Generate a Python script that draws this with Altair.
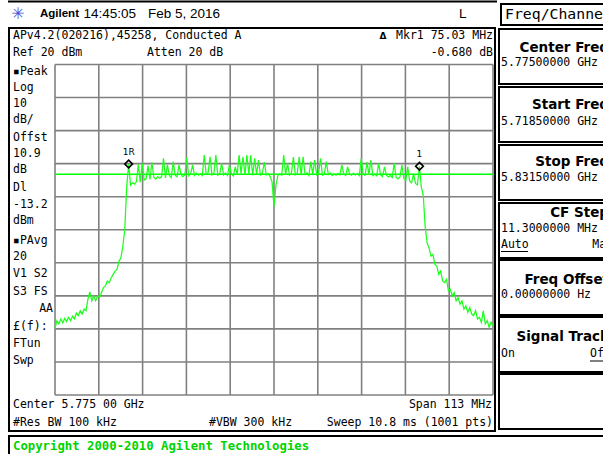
import altair as alt
import pandas as pd

# ---------------------------------------------------------------- sweep setup
START_MHZ = 5718.5
STOP_MHZ = 5831.5
STEP_MHZ = 0.5            # spacing of the stored trace points
REF_DBM = 20
BOTTOM_DBM = -80
DISPLAY_LINE_DBM = -13.2

# trace level (dBm) at each stored point, START_MHZ upwards in STEP_MHZ steps
levels = [
    # lower skirt
    -59.8, -57.5, -58.5, -57.0, -58.2, -56.8, -57.8, -56.5, -57.5, -56.2,
    -57.0, -55.2, -56.0, -54.5, -55.5, -54.0, -54.5, -51.0, -48.8, -51.5,
    -50.0, -51.5, -50.0, -50.5, -49.0, -47.5, -47.0, -45.5, -46.0, -44.5,
    -43.5, -42.5, -42.0, -39.5, -38.5, -35.0, -30.0,
    # in-band
    -17.0, -10.1, -16.5, -15.8, -16.2, -15.5, -10.2, -15.6, -9.9, -15.0,
    -14.6, -10.6, -14.8, -9.6, -14.2, -14.7, -13.9, -14.4, -14.0, -8.4,
    -14.3, -10.4, -13.6, -14.2, -9.4, -13.5, -14.0, -10.4, -13.2, -13.9,
    -13.4, -8.2, -13.7, -13.1, -10.4, -13.6, -12.9, -13.5, -13.0, -13.6,
    -7.4, -13.2, -12.8, -7.9, -13.4, -12.9, -7.4, -13.5, -13.0, -9.9,
    -13.4, -12.8, -13.6, -10.4, -13.1, -13.7, -11.0, -13.2, -7.4, -13.0,
    -7.9, -13.4, -7.4, -13.1, -7.4, -13.6, -8.4, -13.2, -8.9, -13.5,
    -12.9, -9.5, -13.4, -13.0, -13.9, -15.5, -23.0, -16.5, -13.6, -13.1,
    -13.5, -7.4, -13.2, -9.9, -13.5, -12.9, -8.0, -13.4, -13.0, -7.9,
    -13.5, -7.9, -13.2, -12.8, -13.6, -9.4, -13.1, -8.9, -13.4, -12.9,
    -8.4, -13.5, -13.0, -9.4, -13.3, -12.8, -13.6, -13.1, -13.5, -12.9,
    -13.4, -10.4, -13.2, -13.6, -11.0, -13.1, -13.5, -12.9, -13.4, -13.0,
    -13.6, -8.4, -13.2, -13.5, -9.5, -13.3, -8.9, -13.6, -13.2, -13.7,
    -9.9, -13.4, -13.9, -11.0, -13.5, -14.0, -13.6, -14.2, -9.9, -14.1,
    -14.6, -14.0, -10.4, -14.5, -15.0, -11.0, -15.3, -15.8, -13.0, -16.0,
    -16.4, -10.78, -17.0, -19.5,
    # upper skirt
    -29.0, -34.0, -35.5, -38.0, -37.5, -40.5, -41.0, -43.5, -42.5, -45.5,
    -46.0, -45.0, -48.5, -48.0, -50.0, -49.0, -51.5, -50.5, -52.5, -51.5,
    -54.0, -53.0, -55.0, -53.5, -55.5, -56.0, -54.5, -57.0, -56.5, -58.0,
    -54.5, -58.5, -57.5, -59.5, -58.0, -59.0,
]
freqs = [START_MHZ + STEP_MHZ * i for i in range(len(levels))]

# markers: reference marker and delta readout
MKR_REF_FREQ = 5737.5
MKR_REF_LEVEL = -10.10
DELTA_FREQ_MHZ = 75.03
DELTA_LEVEL_DB = -0.680
marker_freqs = [MKR_REF_FREQ, MKR_REF_FREQ + DELTA_FREQ_MHZ]
marker_levels = [MKR_REF_LEVEL, MKR_REF_LEVEL + DELTA_LEVEL_DB]
marker_names = ["1R", "1"]

# graticule: 10 x 10 divisions
grid_freqs = [START_MHZ + 11.3 * k for k in range(11)]
grid_levels = [-80, -70, -60, -50, -40, -30, -20, -10, 0, 10, 20]

# annotation text
left_labels = ["\u25aaPeak", "Log", "10", "dB/", "Offst", "10.9", "dB", "Dl",
               "-13.2", "dBm", "\u25aaPAvg", "20", "V1 S2", "S3 FS"]
left_label_y = [71.5, 87.5, 103.5, 120, 137.5, 154, 170, 188,
                204.5, 220.5, 241, 257, 274, 291.5]
left_labels_low = ["\u00a3(f):", "FTun", "Swp"]
left_label_low_y = [326.5, 343.5, 360.5]

softkey_titles = ["Center Freq", "Start Freq", "Stop Freq", "CF Step",
                  "Freq Offset", "Signal Track"]
softkey_values = ["5.77500000 GHz", "5.71850000 GHz", "5.83150000 GHz",
                  "11.3000000 MHz", "0.00000000  Hz", ""]
softkey_tops = [28, 86, 144, 202, 259, 316, 373]

# ---------------------------------------------------------------- layout
W, H = 603, 454
PX_L, PX_R, PX_T, PX_B = 55, 493, 64.5, 395
MONO = "DejaVu Sans Mono"
SANS = "Liberation Sans"
BOLD_SANS = "DejaVu Sans"
GRID = "#808080"
TRACE = "#1cff1c"

ONE = pd.DataFrame({"k": [0]})
xs = alt.Scale(domain=[START_MHZ, STOP_MHZ], range=[PX_L, PX_R])
ys = alt.Scale(domain=[BOTTOM_DBM, REF_DBM], range=[PX_B, PX_T])


def text(txt, x, y, size=11.5, font=MONO, weight="normal", align="left",
         color="black"):
    return alt.Chart(ONE).mark_text(
        font=font, fontSize=size, fontWeight=weight, align=align,
        baseline="middle", color=color,
    ).encode(x=alt.value(x), y=alt.value(y), text=alt.value(txt))


def box(x0, x1, y0, y1, width=2, fill="white"):
    return alt.Chart(ONE).mark_rect(
        fill=fill, stroke="black", strokeWidth=width,
    ).encode(x=alt.value(x0), x2=alt.value(x1), y=alt.value(y0), y2=alt.value(y1))


def hline(x0, x1, y, width=1, color="black"):
    return alt.Chart(ONE).mark_rule(color=color, strokeWidth=width).encode(
        x=alt.value(x0), x2=alt.value(x1), y=alt.value(y))


layers = []

# frames
layers.append(hline(8, 497, 1.5, width=2))
layers.append(box(9, 495, 28, 431, width=2))
layers.append(box(9, 612, 436, 460, width=2))
layers.append(box(501, 612, 4, 25, width=2))
for t in softkey_tops:
    layers.append(box(499, 612, t + 1, t + 56, width=2))

# graticule
gx = pd.DataFrame({"f": grid_freqs})
gy = pd.DataFrame({"l": grid_levels})
layers.append(alt.Chart(gx).mark_rule(color=GRID, strokeWidth=1.6).encode(
    x=alt.X("f:Q", scale=xs, axis=None), y=alt.value(PX_T), y2=alt.value(PX_B)))
layers.append(alt.Chart(gy).mark_rule(color=GRID, strokeWidth=1.6).encode(
    y=alt.Y("l:Q", scale=ys, axis=None), x=alt.value(PX_L), x2=alt.value(PX_R)))

# display line
layers.append(alt.Chart(pd.DataFrame({"dl": [DISPLAY_LINE_DBM]})).mark_rule(
    color="#00ff00", strokeWidth=1.3).encode(
    y=alt.Y("dl:Q", scale=ys, axis=None), x=alt.value(PX_L), x2=alt.value(PX_R)))

# trace
trace = pd.DataFrame({"freq": freqs, "level": levels})
layers.append(alt.Chart(trace).mark_line(color=TRACE, strokeWidth=1.25).encode(
    x=alt.X("freq:Q", scale=xs, axis=None),
    y=alt.Y("level:Q", scale=ys, axis=None)))

# markers
mk = pd.DataFrame({"freq": marker_freqs, "level": marker_levels, "name": marker_names})
layers.append(alt.Chart(mk).mark_point(
    shape="diamond", filled=False, color="black", strokeWidth=1.7, size=58, opacity=1).encode(
    x=alt.X("freq:Q", scale=xs, axis=None), y=alt.Y("level:Q", scale=ys, axis=None)))
layers.append(alt.Chart(mk).mark_text(
    font=BOLD_SANS, fontSize=9, dy=-12, color="black").encode(
    x=alt.X("freq:Q", scale=xs, axis=None), y=alt.Y("level:Q", scale=ys, axis=None),
    text="name:N"))

# header
layers.append(text("\u2733", 18, 14, size=16, font=BOLD_SANS, align="center", color="#4b4bd6"))
layers.append(text("Agilent", 40, 14, size=11.5, font=SANS, weight="bold"))
layers.append(text("14:45:05", 83.5, 14, size=13.5, font=SANS))
layers.append(text("Feb 5, 2016", 148, 14, size=13.5, font=SANS))
layers.append(text("L", 459, 14, size=13.5, font=SANS))

# top annotation rows
layers.append(text("APv4.2(020216),45258, Conducted A", 13, 36))
layers.append(text("Ref 20 dBm", 13, 53))
layers.append(text("Atten 20 dB", 147, 53))
layers.append(text("\u0394", 383, 36, size=9, font=BOLD_SANS, weight="bold", align="center"))
layers.append(text(f"Mkr1  {DELTA_FREQ_MHZ:.2f} MHz", 493, 36, align="right"))
layers.append(text(f"{DELTA_LEVEL_DB:.3f} dB", 493, 53, align="right"))

# left-side settings column
for s, y in zip(left_labels, left_label_y):
    layers.append(text(s, 13, y))
layers.append(text("AA", 53, 309, align="right"))
for s, y in zip(left_labels_low, left_label_low_y):
    layers.append(text(s, 13, y))

# bottom annotation rows
layers.append(text("Center 5.775 00 GHz", 13, 404.5))
layers.append(text("Span 113 MHz", 492, 404.5, align="right"))
layers.append(text("#Res BW 100 kHz", 13, 422.5))
layers.append(text("#VBW 300 kHz", 209, 422.5))
layers.append(text("Sweep 10.8 ms (1001 pts)", 493, 422.5, align="right"))
layers.append(text("Copyright 2000-2010 Agilent Technologies", 13, 445.5, size=12.3,
                   weight="bold", color="#00d400"))

# softkey menu
layers.append(text("Freq/Channel", 505, 15, size=14.8))
label_y = [48, 105, 162, 213, 280, 337]
value_y = [63, 121.5, 178, 229, 295, 354]
for title, val, ly, vy in zip(softkey_titles, softkey_values, label_y, value_y):
    layers.append(text(title, 609, ly, size=13.5, font=BOLD_SANS, weight="bold", align="right"))
    if val:
        layers.append(text(val, 501, vy))
layers.append(text("Auto", 501, 244.5))
layers.append(hline(501, 528, 251.5, width=1))
layers.append(text("Man", 613, 244.5, align="right"))
layers.append(text("On", 501, 354))
layers.append(text("Off", 590, 354))
layers.append(hline(590, 612, 361, width=1))

chart = alt.layer(*layers).properties(
    width=W, height=H, padding=0,
    autosize=alt.AutoSizeParams(type="none"),
    background="white",
).configure_view(stroke=None)

chart.save("out.html", embed_options={"renderer": "svg", "actions": False})
